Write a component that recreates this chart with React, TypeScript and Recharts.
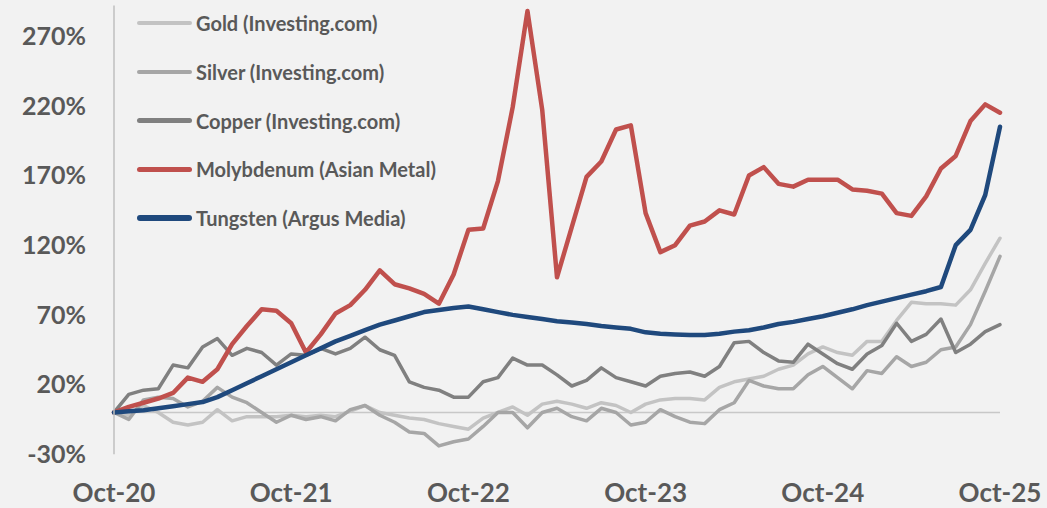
import React from 'react';
import { LineChart, Line, XAxis, YAxis, ReferenceLine, Legend } from 'recharts';

const months = [
  'Oct-20','Nov-20','Dec-20','Jan-21','Feb-21','Mar-21','Apr-21','May-21','Jun-21','Jul-21','Aug-21','Sep-21',
  'Oct-21','Nov-21','Dec-21','Jan-22','Feb-22','Mar-22','Apr-22','May-22','Jun-22','Jul-22','Aug-22','Sep-22',
  'Oct-22','Nov-22','Dec-22','Jan-23','Feb-23','Mar-23','Apr-23','May-23','Jun-23','Jul-23','Aug-23','Sep-23',
  'Oct-23','Nov-23','Dec-23','Jan-24','Feb-24','Mar-24','Apr-24','May-24','Jun-24','Jul-24','Aug-24','Sep-24',
  'Oct-24','Nov-24','Dec-24','Jan-25','Feb-25','Mar-25','Apr-25','May-25','Jun-25','Jul-25','Aug-25','Sep-25',
  'Oct-25',
];

const yTicks = [-30, 20, 70, 120, 170, 220, 270];

const gold = [0,-2,5,0,-7,-9,-7,2,-6,-3,-3,-3,-2,-3,-2,-3,1,5,0,-2,-4,-5,-8,-10,-12,-4,0,4,-2,6,8,6,3,7,5,0,6,9,10,10,9,18,22,24,26,31,34,42,47,43,41,51,51,66,79,78,78,77,88,107,125];
const silver = [0,-5,9,11,10,4,8,18,11,7,0,-7,-2,-5,-3,-6,2,5,-2,-7,-14,-15,-24,-21,-19,-10,0,0,-11,0,3,-3,-6,3,0,-9,-7,2,-3,-7,-8,2,7,23,19,17,17,27,33,25,17,30,28,40,33,36,45,47,63,87,112];
const copper = [0,13,16,17,34,32,47,53,41,46,43,34,42,41,46,42,46,54,45,41,22,18,16,11,11,22,25,39,34,34,27,19,23,32,25,22,19,26,28,29,26,33,50,51,43,37,36,49,42,35,31,42,48,64,51,56,67,43,49,58,63];
const molybdenum = [0,4,7,10,14,25,22,31,49,62,74,73,64,43,56,71,77,88,102,92,89,85,78,99,131,132,166,219,288,217,97,133,169,180,203,206,143,115,120,134,137,145,142,170,176,164,162,167,167,167,160,159,157,143,141,155,175,184,209,221,215];
const tungsten = [0,0.8,1.6,3,4.5,6,7.5,11,16,21,26,31,36,41,46,51,55,59,63,66,69,72,73.5,75,76,74,72,70,68.5,67,65.5,64.5,63.5,62,61,60,57.5,56.5,56,55.5,55.5,56.5,58,59,61,63.5,65,67,69,71.5,74,77,79.5,82,84.5,87,90,120,131,156,205];

const seriesNames = ['Gold (Investing.com)', 'Silver (Investing.com)', 'Copper (Investing.com)', 'Molybdenum (Asian Metal)', 'Tungsten (Argus Media)'];
const seriesKeys = ['gold', 'silver', 'copper', 'molybdenum', 'tungsten'];
const seriesColors = ['#c3c3c3', '#a6a6a6', '#808080', '#c0504d', '#1f497d'];
const seriesWidths = [3.5, 3.5, 3.5, 4.5, 4.5];

const data = months.map((m, i) => ({
  month: m,
  gold: gold[i],
  silver: silver[i],
  copper: copper[i],
  molybdenum: molybdenum[i],
  tungsten: tungsten[i],
}));

const FONT = 'Lato, "Open Sans", sans-serif';

const renderLegend = () => (
  <div style={{ position: 'relative', width: 400, height: 250 }}>
    {seriesNames.map((name, i) => (
      <div
        key={name}
        style={{
          position: 'absolute',
          left: 137,
          top: 23 + i * 48.8 - 12,
          height: 24,
          display: 'flex',
          alignItems: 'center',
          whiteSpace: 'nowrap',
        }}
      >
        <div
          style={{
            width: 55,
            height: i >= 3 ? 5.5 : 4.5,
            borderRadius: 3,
            background: seriesColors[i],
            marginRight: 4,
          }}
        />
        <span style={{ fontFamily: FONT, fontWeight: 700, fontSize: 20, color: '#595959' }}>{name}</span>
      </div>
    ))}
  </div>
);

export default function App() {
  return (
    <div style={{ position: 'absolute', left: 0, top: 0, width: 1047, height: 508, background: '#f2f2f2', overflow: 'hidden' }}>
      <LineChart
        width={1047}
        height={508}
        data={data}
        margin={{ top: 5.4, right: 47, bottom: 13.7, left: 0 }}
      >
        <XAxis
          dataKey="month"
          interval={11}
          axisLine={false}
          tickLine={false}
          tickSize={0}
          tickMargin={29}
          height={40}
          tick={{ fontSize: 26, fontWeight: 700, fill: '#595959', fontFamily: FONT }}
        />
        <YAxis
          type="number"
          domain={[-30, 292]}
          ticks={yTicks}
          allowDataOverflow
          width={114}
          axisLine={{ stroke: '#bfbfbf', strokeWidth: 1.5 }}
          tickLine={false}
          tickSize={0}
          tickMargin={28}
          tickFormatter={(v: number) => `${v}%`}
          tick={{ fontSize: 25, fontWeight: 700, fill: '#595959', fontFamily: FONT }}
        />
        <ReferenceLine y={0} stroke="#c8c8c8" strokeWidth={1.5} />
        <Legend
          layout="horizontal"
          verticalAlign="middle"
          align="center"
          content={renderLegend}
          wrapperStyle={{ top: 0, left: 0, width: 400, height: 250 }}
        />
        {seriesKeys.map((k, i) => (
          <Line
            key={k}
            type="linear"
            dataKey={k}
            name={seriesNames[i]}
            stroke={seriesColors[i]}
            strokeWidth={seriesWidths[i]}
            strokeLinejoin="round"
            strokeLinecap="round"
            dot={false}
            activeDot={false}
            isAnimationActive={false}
          />
        ))}
      </LineChart>
    </div>
  );
}
